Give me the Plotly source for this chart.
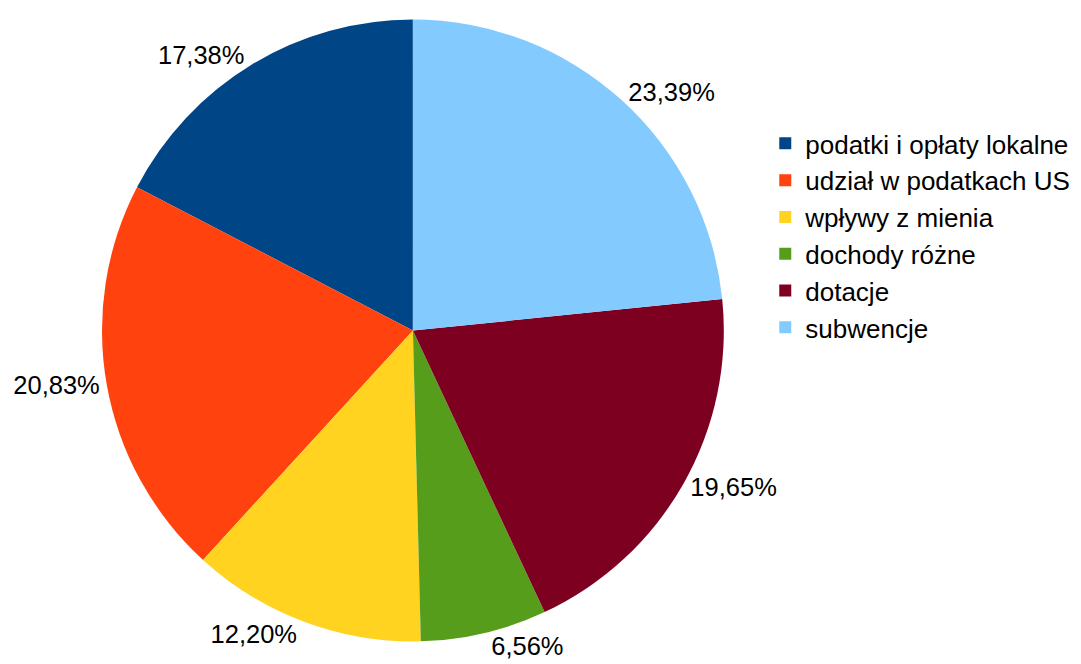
import plotly.graph_objects as go

labels = ["podatki i opłaty lokalne", "udział w podatkach US", "wpływy z mienia",
          "dochody różne", "dotacje", "subwencje"]
values = [17.38, 20.83, 12.20, 6.56, 19.65, 23.39]
colors = ["#004586", "#FF420E", "#FFD320", "#579D1C", "#7E0021", "#83CAFF"]

# first slice should start at 12 o'clock and run counterclockwise
start_rot = -values[0] / sum(values) * 360.0

fig = go.Figure(go.Pie(
    labels=labels,
    values=values,
    sort=False,
    direction="counterclockwise",
    rotation=start_rot,
    marker=dict(colors=colors, line=dict(width=0)),
    texttemplate="%{value:.2f}%",
    textposition="outside",
    textfont=dict(family="Liberation Sans, Arial, sans-serif", size=25.5, color="#000000"),
    domain=dict(x=[0.0, 0.63], y=[0.025, 1.0]),
    hoverinfo="label+percent",
))

fig.update_layout(
    width=1081, height=664,
    margin=dict(l=0, r=0, t=0, b=0),
    paper_bgcolor="white",
    plot_bgcolor="white",
    separators=", ",
    font=dict(family="Liberation Sans, Arial, sans-serif", size=26, color="#000000"),
    legend=dict(x=0.672, y=0.842, xanchor="left", yanchor="top",
                font=dict(size=26), bgcolor="rgba(0,0,0,0)"),
    showlegend=True,
)

fig.write_html("out.html")
